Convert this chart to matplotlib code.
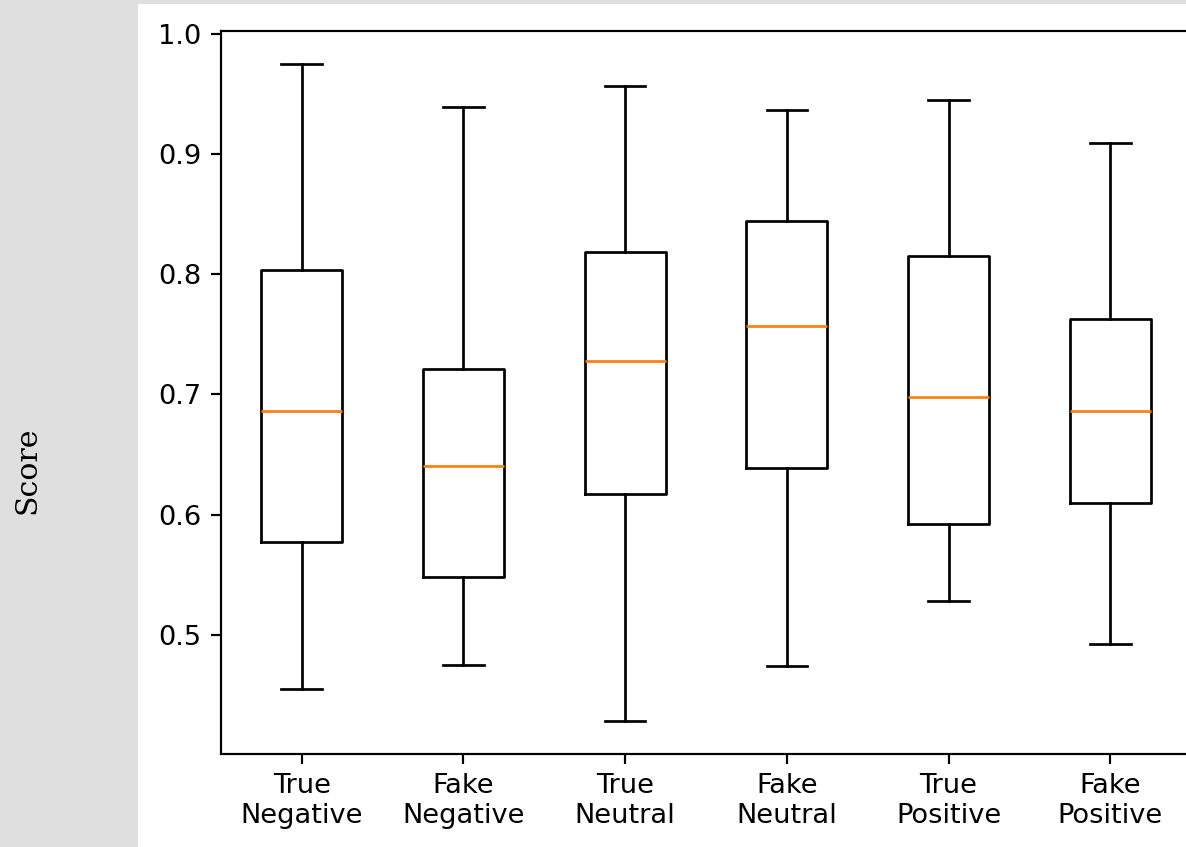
import matplotlib
matplotlib.use("Agg")
import matplotlib.pyplot as plt
from matplotlib.patches import Rectangle

labels = ["True\nNegative", "Fake\nNegative", "True\nNeutral",
          "Fake\nNeutral", "True\nPositive", "Fake\nPositive"]
whislo = [0.455, 0.475, 0.428, 0.474, 0.528, 0.492]
q1 = [0.577, 0.548, 0.617, 0.639, 0.592, 0.610]
med = [0.686, 0.640, 0.728, 0.757, 0.698, 0.686]
q3 = [0.803, 0.721, 0.818, 0.844, 0.815, 0.763]
whishi = [0.975, 0.939, 0.956, 0.936, 0.945, 0.909]

stats = []
for i in range(len(labels)):
    stats.append({"label": labels[i], "whislo": whislo[i], "q1": q1[i],
                  "med": med[i], "q3": q3[i], "whishi": whishi[i], "fliers": []})

W, H, dpi = 1186, 847, 196
fig = plt.figure(figsize=(W / dpi, H / dpi), dpi=dpi)
fig.patch.set_facecolor("#dfdfdf")
# white panel behind the plot
fig.patches.append(Rectangle((138 / W, 0), 1, 1 - 4 / H, transform=fig.transFigure,
                             facecolor="white", edgecolor="none", zorder=-10))

ax = fig.add_axes([220.8 / W, 1 - 754.3 / H, 970.4 / W, (754.3 - 30.7) / H])
ax.set_zorder(5)
ax.bxp(stats)

fig.text(28 / W, 1 - 470 / H, "Score", rotation=90, ha="center", va="center",
         family="DejaVu Serif", fontsize=11)

fig.savefig("out.png", dpi=dpi, facecolor=fig.get_facecolor())
